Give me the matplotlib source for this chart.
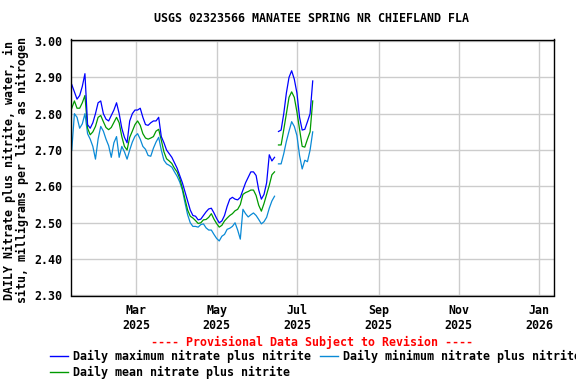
import matplotlib
matplotlib.use('Agg')
import matplotlib.pyplot as plt
import matplotlib.dates as mdates
import numpy as np

# readings every 2 days, two runs with a gap in mid June
dates_a = np.arange(np.datetime64('2025-01-11'), np.datetime64('2025-06-15'), 2)
dates_b = np.arange(np.datetime64('2025-06-17'), np.datetime64('2025-07-14'), 2)

max_a = [2.88, 2.86, 2.84, 2.85, 2.875, 2.91, 2.77, 2.76, 2.775, 2.80,
         2.83, 2.835, 2.80, 2.785, 2.78, 2.795, 2.81, 2.83, 2.80, 2.76,
         2.735, 2.72, 2.78, 2.80, 2.81, 2.81, 2.815, 2.79, 2.77, 2.768,
         2.775, 2.78, 2.78, 2.79, 2.737, 2.72, 2.70, 2.69, 2.68, 2.665,
         2.65, 2.63, 2.61, 2.585, 2.56, 2.535, 2.52, 2.518, 2.508, 2.51,
         2.52, 2.53, 2.538, 2.54, 2.527, 2.512, 2.50, 2.505, 2.52, 2.545,
         2.565, 2.57, 2.565, 2.563, 2.57, 2.59, 2.61, 2.625, 2.64, 2.64,
         2.63, 2.59, 2.565, 2.578, 2.61, 2.687, 2.67, 2.68]
max_b = [2.751, 2.755, 2.80, 2.857, 2.90, 2.918, 2.895, 2.857, 2.79, 2.755,
         2.757, 2.778, 2.80, 2.89]

mean_a = [2.815, 2.835, 2.815, 2.815, 2.83, 2.85, 2.76, 2.742, 2.75, 2.765,
          2.79, 2.795, 2.778, 2.762, 2.756, 2.762, 2.776, 2.79, 2.775, 2.737,
          2.71, 2.70, 2.735, 2.752, 2.77, 2.78, 2.768, 2.745, 2.733, 2.73,
          2.733, 2.737, 2.752, 2.757, 2.727, 2.695, 2.676, 2.67, 2.663, 2.65,
          2.64, 2.622, 2.595, 2.565, 2.535, 2.518, 2.513, 2.506, 2.498, 2.50,
          2.508, 2.509, 2.515, 2.525, 2.51, 2.498, 2.488, 2.493, 2.505, 2.513,
          2.52, 2.525, 2.533, 2.537, 2.55, 2.578, 2.583, 2.586, 2.59, 2.59,
          2.575, 2.548, 2.532, 2.553, 2.578, 2.603, 2.632, 2.64]
mean_b = [2.714, 2.714, 2.756, 2.80, 2.845, 2.86, 2.845, 2.805, 2.757, 2.71,
          2.708, 2.73, 2.75, 2.835]

min_a = [2.70, 2.80, 2.79, 2.76, 2.772, 2.80, 2.745, 2.73, 2.71, 2.675,
         2.73, 2.765, 2.752, 2.73, 2.712, 2.68, 2.72, 2.737, 2.68, 2.71,
         2.695, 2.675, 2.70, 2.722, 2.738, 2.745, 2.73, 2.71, 2.702, 2.685,
         2.683, 2.705, 2.722, 2.735, 2.70, 2.672, 2.662, 2.658, 2.653, 2.64,
         2.628, 2.612, 2.59, 2.555, 2.522, 2.50, 2.49, 2.49, 2.488, 2.495,
         2.497, 2.486, 2.48, 2.48, 2.468, 2.457, 2.45, 2.463, 2.468, 2.482,
         2.485, 2.49, 2.50, 2.48, 2.455, 2.537, 2.525, 2.516, 2.522, 2.527,
         2.52, 2.509, 2.497, 2.503, 2.515, 2.54, 2.56, 2.573]
min_b = [2.662, 2.662, 2.69, 2.724, 2.752, 2.778, 2.765, 2.74, 2.685, 2.648,
         2.672, 2.668, 2.70, 2.75]

month_ticks = ['2025-03-01', '2025-05-01', '2025-07-01', '2025-09-01',
               '2025-11-01', '2026-01-01']
yticks = [2.30, 2.40, 2.50, 2.60, 2.70, 2.80, 2.90, 3.00]

c_max = '#0000ff'
c_min = '#0a8ad6'
c_mean = '#009a00'

plt.rcParams['font.family'] = ['DejaVu Sans Mono']
plt.rcParams['font.weight'] = 'bold'
fs = 8.4

fig = plt.figure(figsize=(5.76, 3.84), dpi=100)
ax = fig.add_axes([71 / 576, 1 - 295.5 / 384, (554 - 71) / 576, (295.5 - 39.5) / 384])


def joined(da, db, va, vb):
    # NaN between the runs so the line breaks
    d = np.concatenate([da.astype('datetime64[D]'), [np.datetime64('2025-06-16')], db.astype('datetime64[D]')])
    v = np.concatenate([va, [np.nan], vb])
    return d.astype('datetime64[ms]').astype(object), v


for va, vb, c in [(min_a, min_b, c_min), (mean_a, mean_b, c_mean), (max_a, max_b, c_max)]:
    d, v = joined(dates_a, dates_b, va, vb)
    ax.plot(d, v, color=c, lw=0.9)

ax.set_xlim(np.datetime64('2025-01-10T10:00').astype(object),
            np.datetime64('2026-01-12T06:00').astype(object))
ax.set_ylim(2.30, 3.004)
ax.set_xticks([np.datetime64(t).astype(object) for t in month_ticks])
ax.xaxis.set_major_formatter(mdates.DateFormatter('%b\n%Y'))
ax.set_yticks(yticks)
ax.set_yticklabels(['%.2f' % t for t in yticks])
ax.tick_params(length=0, labelsize=fs, pad=6)
for lab in ax.get_xticklabels() + ax.get_yticklabels():
    lab.set_fontweight('bold')
ax.grid(True, color='#cccccc', lw=1)
ax.set_axisbelow(True)
for s in ax.spines.values():
    s.set_linewidth(1.0)

fig.text(312 / 576, 1 - 19 / 384, 'USGS 02323566 MANATEE SPRING NR CHIEFLAND FLA',
         ha='center', va='center', fontsize=fs, fontweight='bold')
fig.text(16 / 576, 1 - 170 / 384,
         'DAILY Nitrate plus nitrite, water, in\nsitu, milligrams per liter as nitrogen',
         rotation=90, ha='center', va='center', fontsize=fs, fontweight='bold',
         linespacing=1.05)
fig.text(312 / 576, 1 - 342 / 384, '---- Provisional Data Subject to Revision ----',
         ha='center', va='center', fontsize=fs, fontweight='bold', color='red')

legend_items = [('Daily maximum nitrate plus nitrite', c_max, 50, 356),
                ('Daily minimum nitrate plus nitrite', c_min, 320, 356),
                ('Daily mean nitrate plus nitrite', c_mean, 50, 372)]
for label, c, lx, ly in legend_items:
    fig.add_artist(plt.Line2D([lx / 576, (lx + 18) / 576], [1 - ly / 384, 1 - ly / 384],
                              color=c, lw=1))
    fig.text((lx + 23) / 576, 1 - ly / 384, label, ha='left', va='center',
             fontsize=fs, fontweight='bold')

fig.savefig('out.png', dpi=100)
